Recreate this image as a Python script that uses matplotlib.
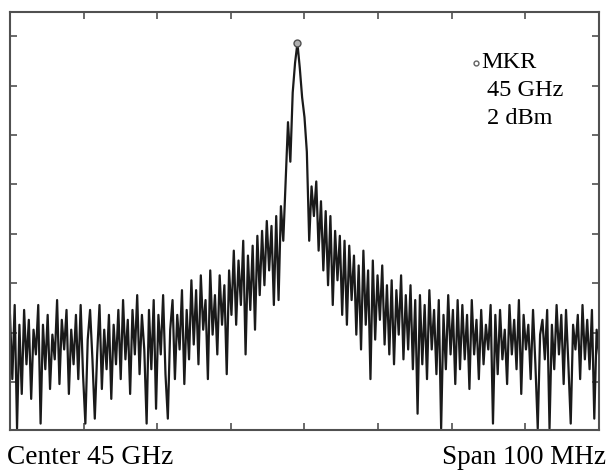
import numpy as np
import matplotlib
matplotlib.use('Agg')
import matplotlib.pyplot as plt

# sweep: 251 points across a 100 MHz span around 45 GHz (offset in MHz)
freq_mhz = np.linspace(-50, 50, 251)

# trace levels in dBm left to right
level_dbm = [
    # far left noise floor
    -53, -66, -51, -76, -55, -69, -52, -63, -54, -70,
    -56, -61, -51, -75, -55, -64, -53, -68, -57, -62,
    -50, -67, -54, -60, -52, -69, -56, -63, -53, -66,
    -51, -65, -75, -58, -52, -62, -74, -61, -51, -68,
    -56, -64, -53, -70, -55, -63, -52, -66, -50, -62,
    -54, -69, -52, -61, -49, -65, -53, -60, -75,
    -52, -64, -50, -72, -53, -61, -49, -65, -74, -56,
    -50, -66, -53, -60, -48, -67, -52, -62,
    # skirt rising
    -46, -59, -48, -63, -45, -56, -50, -66, -44, -57,
    -49, -61, -45, -55, -47, -65, -44,
    -53, -40, -55, -42, -51, -38, -61, -41, -52, -39,
    -56, -37, -49,
    -36, -47, -34, -44, -35, -51, -33, -50, -31, -38,
    # peak
    -26, -14, -22, -8, -2, 2,
    # falling side
    -3, -9, -13, -20, -38, -27, -33, -26, -40, -30,
    -44, -32, -47, -33, -51, -36, -46, -37, -53, -38,
    -55, -39, -50,
    -41, -57, -43, -60, -40, -55, -44, -66, -42, -58,
    -45, -54, -43,
    -59, -47, -61, -46, -63, -48, -57, -45, -62, -49,
    -60, -47, -64, -50, -73,
    -49, -63, -51, -66, -48, -60, -52, -65, -50, -76,
    -53, -64, -49, -61, -52, -67, -50,
    # far right noise floor
    -64, -51, -62, -53, -68, -50, -61, -54, -66, -52,
    -63, -55, -60, -51, -75, -53, -65, -52, -62, -56,
    -67, -51, -61, -54, -64, -50, -69, -53, -60, -55,
    -66, -52, -63, -76, -57, -54, -62, -52, -76, -55,
    -64, -51, -61, -53, -67, -52, -63, -75, -55, -60,
    -53, -66, -51, -62, -54, -64, -52, -74, -56, -61,
]

marker_freq = -1.2
marker_level = 2
marker_text = ['MKR', '45 GHz', '2 dBm']
x_ticks = [-37.5, -25, -12.5, 0, 12.5, 25, 37.5]
y_ticks = [3.4, -6.6, -16.6, -26.6, -36.6, -46.6, -56.6, -66.6]

plt.rcParams['font.family'] = ['Liberation Serif', 'DejaVu Serif']

fig = plt.figure(figsize=(6.08, 4.70), dpi=100)
ax = fig.add_axes([0.0164, 0.0851, 0.9688, 0.8894])

ax.plot(freq_mhz, level_dbm, color='#1a1a1a', linewidth=1.6)
ax.plot([marker_freq], [marker_level], 'o', markersize=5,
        markerfacecolor='#b0b0b0', markeredgecolor='#505050', markeredgewidth=1)

ax.set_xlim(-50, 50)
ax.set_ylim(-76.3, 8.3)
ax.set_xticks(x_ticks)
ax.set_yticks(y_ticks)
ax.tick_params(direction='in', length=5, width=1.2, color='#505050',
               top=True, right=True, labelbottom=False, labelleft=False)
for s in ax.spines.values():
    s.set_color('#505050')
    s.set_linewidth(1.5)

# marker readout
fig.add_artist(plt.Line2D([476 / 608], [1 - 63 / 470], marker='o', markersize=3.5,
                          markerfacecolor='white', markeredgecolor='#606060',
                          markeredgewidth=1, transform=fig.transFigure))
x_txt = [481, 487, 487]
y_txt = [62, 90.5, 118]
for k, t in enumerate(marker_text):
    fig.text(x_txt[k] / 608, 1 - y_txt[k] / 470, t, fontsize=17.5,
             ha='left', va='center')

fig.text(7 / 608, 1 - 457 / 470, 'Center 45 GHz', fontsize=19.7,
         ha='left', va='center')
fig.text(606 / 608, 1 - 457 / 470, 'Span 100 MHz', fontsize=19.5,
         ha='right', va='center')

fig.savefig('out.png', dpi=100)
